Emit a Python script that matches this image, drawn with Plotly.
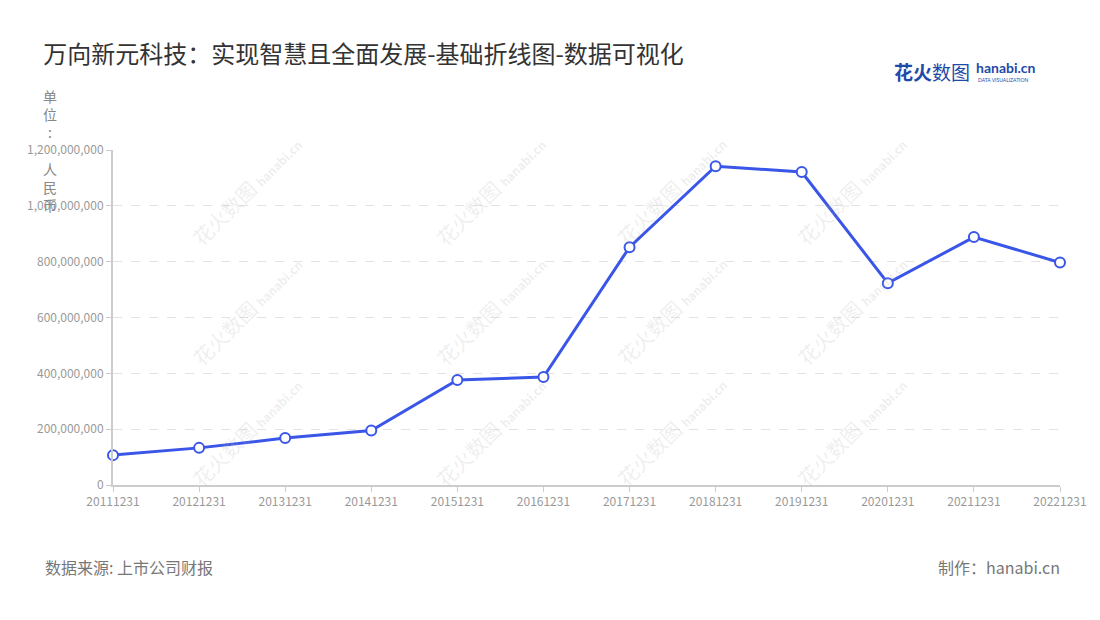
import plotly.graph_objects as go

# 万向新元科技 营业收入（单位：人民币）
dates = ["20111231", "20121231", "20131231", "20141231", "20151231", "20161231",
         "20171231", "20181231", "20191231", "20201231", "20211231", "20221231"]
revenue = [107000000, 133000000, 168000000, 195000000, 376000000, 387000000,
           852000000, 1142000000, 1121000000, 723000000, 888000000, 797000000]

y_ticks = [0, 200000000, 400000000, 600000000, 800000000, 1000000000, 1200000000]

FONT = "Noto Sans CJK SC, Noto Sans, sans-serif"
LINE_BLUE = "#3a56e8"

fig = go.Figure()
fig.add_trace(go.Scatter(
    x=dates, y=revenue, mode="lines+markers",
    line=dict(color=LINE_BLUE, width=3),
    marker=dict(size=10, color="white", line=dict(color=LINE_BLUE, width=2)),
    cliponaxis=False, showlegend=False,
))

fig.update_layout(
    width=1100, height=620,
    margin=dict(l=105, r=48, t=142, b=143),
    paper_bgcolor="white", plot_bgcolor="white",
    font=dict(family=FONT, color="#999"),
    title=dict(text="万向新元科技：实现智慧且全面发展-基础折线图-数据可视化",
               x=0.032, xanchor="left", y=0.925, yanchor="middle",
               font=dict(size=24, color="#333", family=FONT)),
)
fig.update_xaxes(
    type="category", range=[0, len(dates) - 1],
    showline=True, linecolor="#ccc", linewidth=2,
    ticks="outside", ticklen=5, tickcolor="#ccc",
    tickfont=dict(size=12, color="#999"), showgrid=False,
)
fig.update_yaxes(
    range=[0, 1200000000], tickvals=y_ticks, tickformat=",d",
    showline=True, linecolor="#ccc", linewidth=2,
    ticks="outside", ticklen=5, tickcolor="#ccc",
    tickfont=dict(size=12, color="#999"),
    showgrid=True, gridcolor="#e3e3e3", griddash="dash", gridwidth=1,
    zeroline=False,
)

# vertical unit label
fig.add_annotation(text="单<br>位<br>:<br> <br>人<br>民<br>币", xref="paper", yref="paper",
                   x=-0.067, y=1.197, xanchor="center", yanchor="top", showarrow=False,
                   font=dict(size=14, color="#888"))

# logo
fig.add_annotation(text="<b>花火</b>数图", xref="paper", yref="paper",
                   x=0.823, y=1.235, xanchor="left", yanchor="middle", showarrow=False,
                   font=dict(size=19, color="#1e4aa8"))
fig.add_annotation(text="<b>hanabi.cn</b>", xref="paper", yref="paper",
                   x=0.909, y=1.245, xanchor="left", yanchor="middle", showarrow=False,
                   font=dict(size=14, color="#1e4aa8", family="Lato, sans-serif"))
fig.add_annotation(text="DATA VISUALIZATION", xref="paper", yref="paper",
                   x=0.911, y=1.208, xanchor="left", yanchor="middle", showarrow=False,
                   font=dict(size=5, color="#1e4aa8", family="Lato, sans-serif"))

# watermarks
for px_x in [183, 427, 671, 915]:
    for px_y in [127, 310, 495]:
        fig.add_annotation(text="花火数图 <span style='font-size:12px'><b>hanabi.cn</b></span>",
                           xref="paper", yref="paper",
                           x=(px_x - 113) / 947, y=(485 - px_y) / 335,
                           showarrow=False, textangle=-45,
                           font=dict(size=20, color="rgba(180,180,180,0.22)"))

# footer
fig.add_annotation(text="数据来源: 上市公司财报", xref="paper", yref="paper",
                   x=-0.074, y=-0.245, xanchor="left", yanchor="middle", showarrow=False,
                   font=dict(size=16, color="#777"))
fig.add_annotation(text="制作：hanabi.cn", xref="paper", yref="paper",
                   x=1.002, y=-0.245, xanchor="right", yanchor="middle", showarrow=False,
                   font=dict(size=16, color="#777"))

fig.write_html("out.html")
